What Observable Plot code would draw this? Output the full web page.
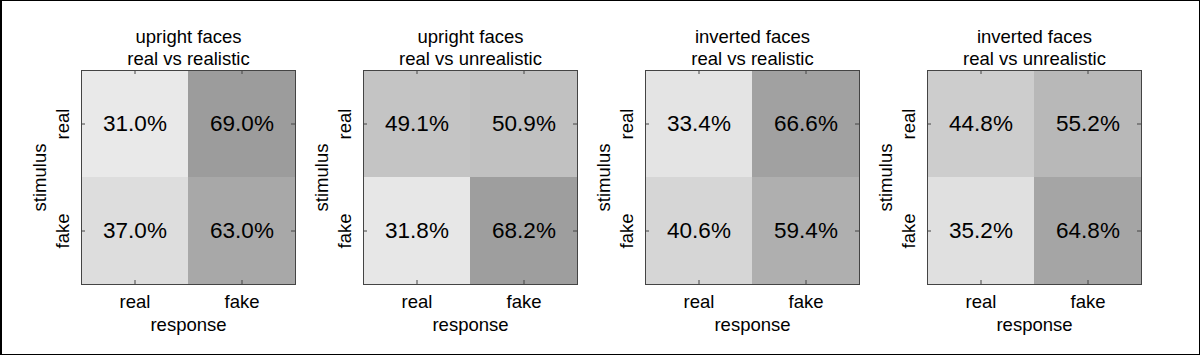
<!DOCTYPE html>
<html>
<head>
<meta charset="utf-8">
<script src="https://cdn.jsdelivr.net/npm/d3@7"></script>
<script src="https://cdn.jsdelivr.net/npm/@observablehq/plot@0.6"></script>
<style>
  html, body { margin: 0; padding: 0; background: #fff; }
  #wrap { position: relative; width: 1200px; height: 355px; box-sizing: border-box; border: 1px solid #000; border-left-width: 2px; background: #fff; overflow: hidden; }
  #wrap svg { position: absolute; top: -1px; }
</style>
</head>
<body>
<div id="wrap"></div>
<script>
// ---- data ----
const panelTitles1 = ["upright faces", "upright faces", "inverted faces", "inverted faces"];
const panelTitles2 = ["real vs realistic", "real vs unrealistic", "real vs realistic", "real vs unrealistic"];
const responses = ["real", "fake"];   // x categories (response)
const stimuli = ["real", "fake"];     // y categories (stimulus)
// values per panel: [stim real→resp real, stim real→resp fake, stim fake→resp real, stim fake→resp fake]
const panelValues = [
  [31.0, 69.0, 37.0, 63.0],
  [49.1, 50.9, 31.8, 68.2],
  [33.4, 66.6, 40.6, 59.4],
  [44.8, 55.2, 35.2, 64.8]
];
const xLabel = "response";
const yLabel = "stimulus";

const FONT = "'Liberation Sans', Arial, Helvetica, sans-serif";
const W = 282, H = 355;
const mL = 60, mR = 8, mT = 70, mB = 71;
const LBL = 18.5, CELL = 22.5, INK = "#000";
const wrap = document.getElementById("wrap");

panelValues.forEach((vals, p) => {
  const data = [];
  stimuli.forEach((s, i) => responses.forEach((r, j) => {
    data.push({stimulus: s, response: r, value: vals[i * 2 + j]});
  }));
  const frameH = H - mT - mB, frameW = W - mL - mR;
  const chart = Plot.plot({
    width: W,
    height: H,
    marginLeft: mL,
    marginRight: mR,
    marginTop: mT,
    marginBottom: mB,
    style: {fontFamily: FONT, fontSize: LBL + "px", color: INK, background: "transparent", overflow: "visible"},
    x: {domain: responses, padding: 0, axis: null},
    y: {domain: stimuli, padding: 0, axis: null},
    color: {type: "linear", domain: [31, 69], range: ["#e9e9e9", "#9c9c9c"], interpolate: "rgb"},
    marks: [
      Plot.cell(data, {x: "response", y: "stimulus", fill: "value"}),
      Plot.text(data, {x: "response", y: "stimulus", text: d => d.value.toFixed(1) + "%", fontSize: CELL, fill: INK, lineAnchor: "middle"}),
      // inward tick marks
      Plot.tickX(responses, {x: d => d, stroke: "#444", insetTop: frameH - 4}),
      Plot.tickX(responses, {x: d => d, stroke: "#444", insetBottom: frameH - 4}),
      Plot.tickY(stimuli, {y: d => d, stroke: "#444", insetLeft: frameW - 4}),
      Plot.tickY(stimuli, {y: d => d, stroke: "#444", insetRight: frameW - 4}),
      Plot.frame({stroke: "#444", strokeWidth: 1}),
      // x tick labels
      Plot.text(responses, {x: d => d, frameAnchor: "bottom", lineAnchor: "bottom", dy: 23, text: d => d, fontSize: LBL, fill: INK}),
      // y tick labels (rotated)
      Plot.text(stimuli, {y: d => d, frameAnchor: "left", lineAnchor: "bottom", textAnchor: "middle", rotate: -90, dx: -12.5, text: d => d, fontSize: LBL, fill: INK}),
      // axis titles
      Plot.text([xLabel], {frameAnchor: "bottom", lineAnchor: "bottom", dy: 46, text: d => d, fontSize: LBL, fill: INK}),
      Plot.text([yLabel], {frameAnchor: "left", lineAnchor: "bottom", textAnchor: "middle", rotate: -90, dx: -36, text: d => d, fontSize: LBL, fill: INK}),
      // panel titles
      Plot.text([panelTitles1[p]], {frameAnchor: "top", lineAnchor: "bottom", dy: -27.2, text: d => d, fontSize: LBL, fill: INK}),
      Plot.text([panelTitles2[p]], {frameAnchor: "top", lineAnchor: "bottom", dy: -5.7, text: d => d, fontSize: LBL, fill: INK})
    ]
  });
  chart.style.left = (81 - mL - 2 + p * 282) + "px";
  wrap.appendChild(chart);
});
</script>
</body>
</html>
